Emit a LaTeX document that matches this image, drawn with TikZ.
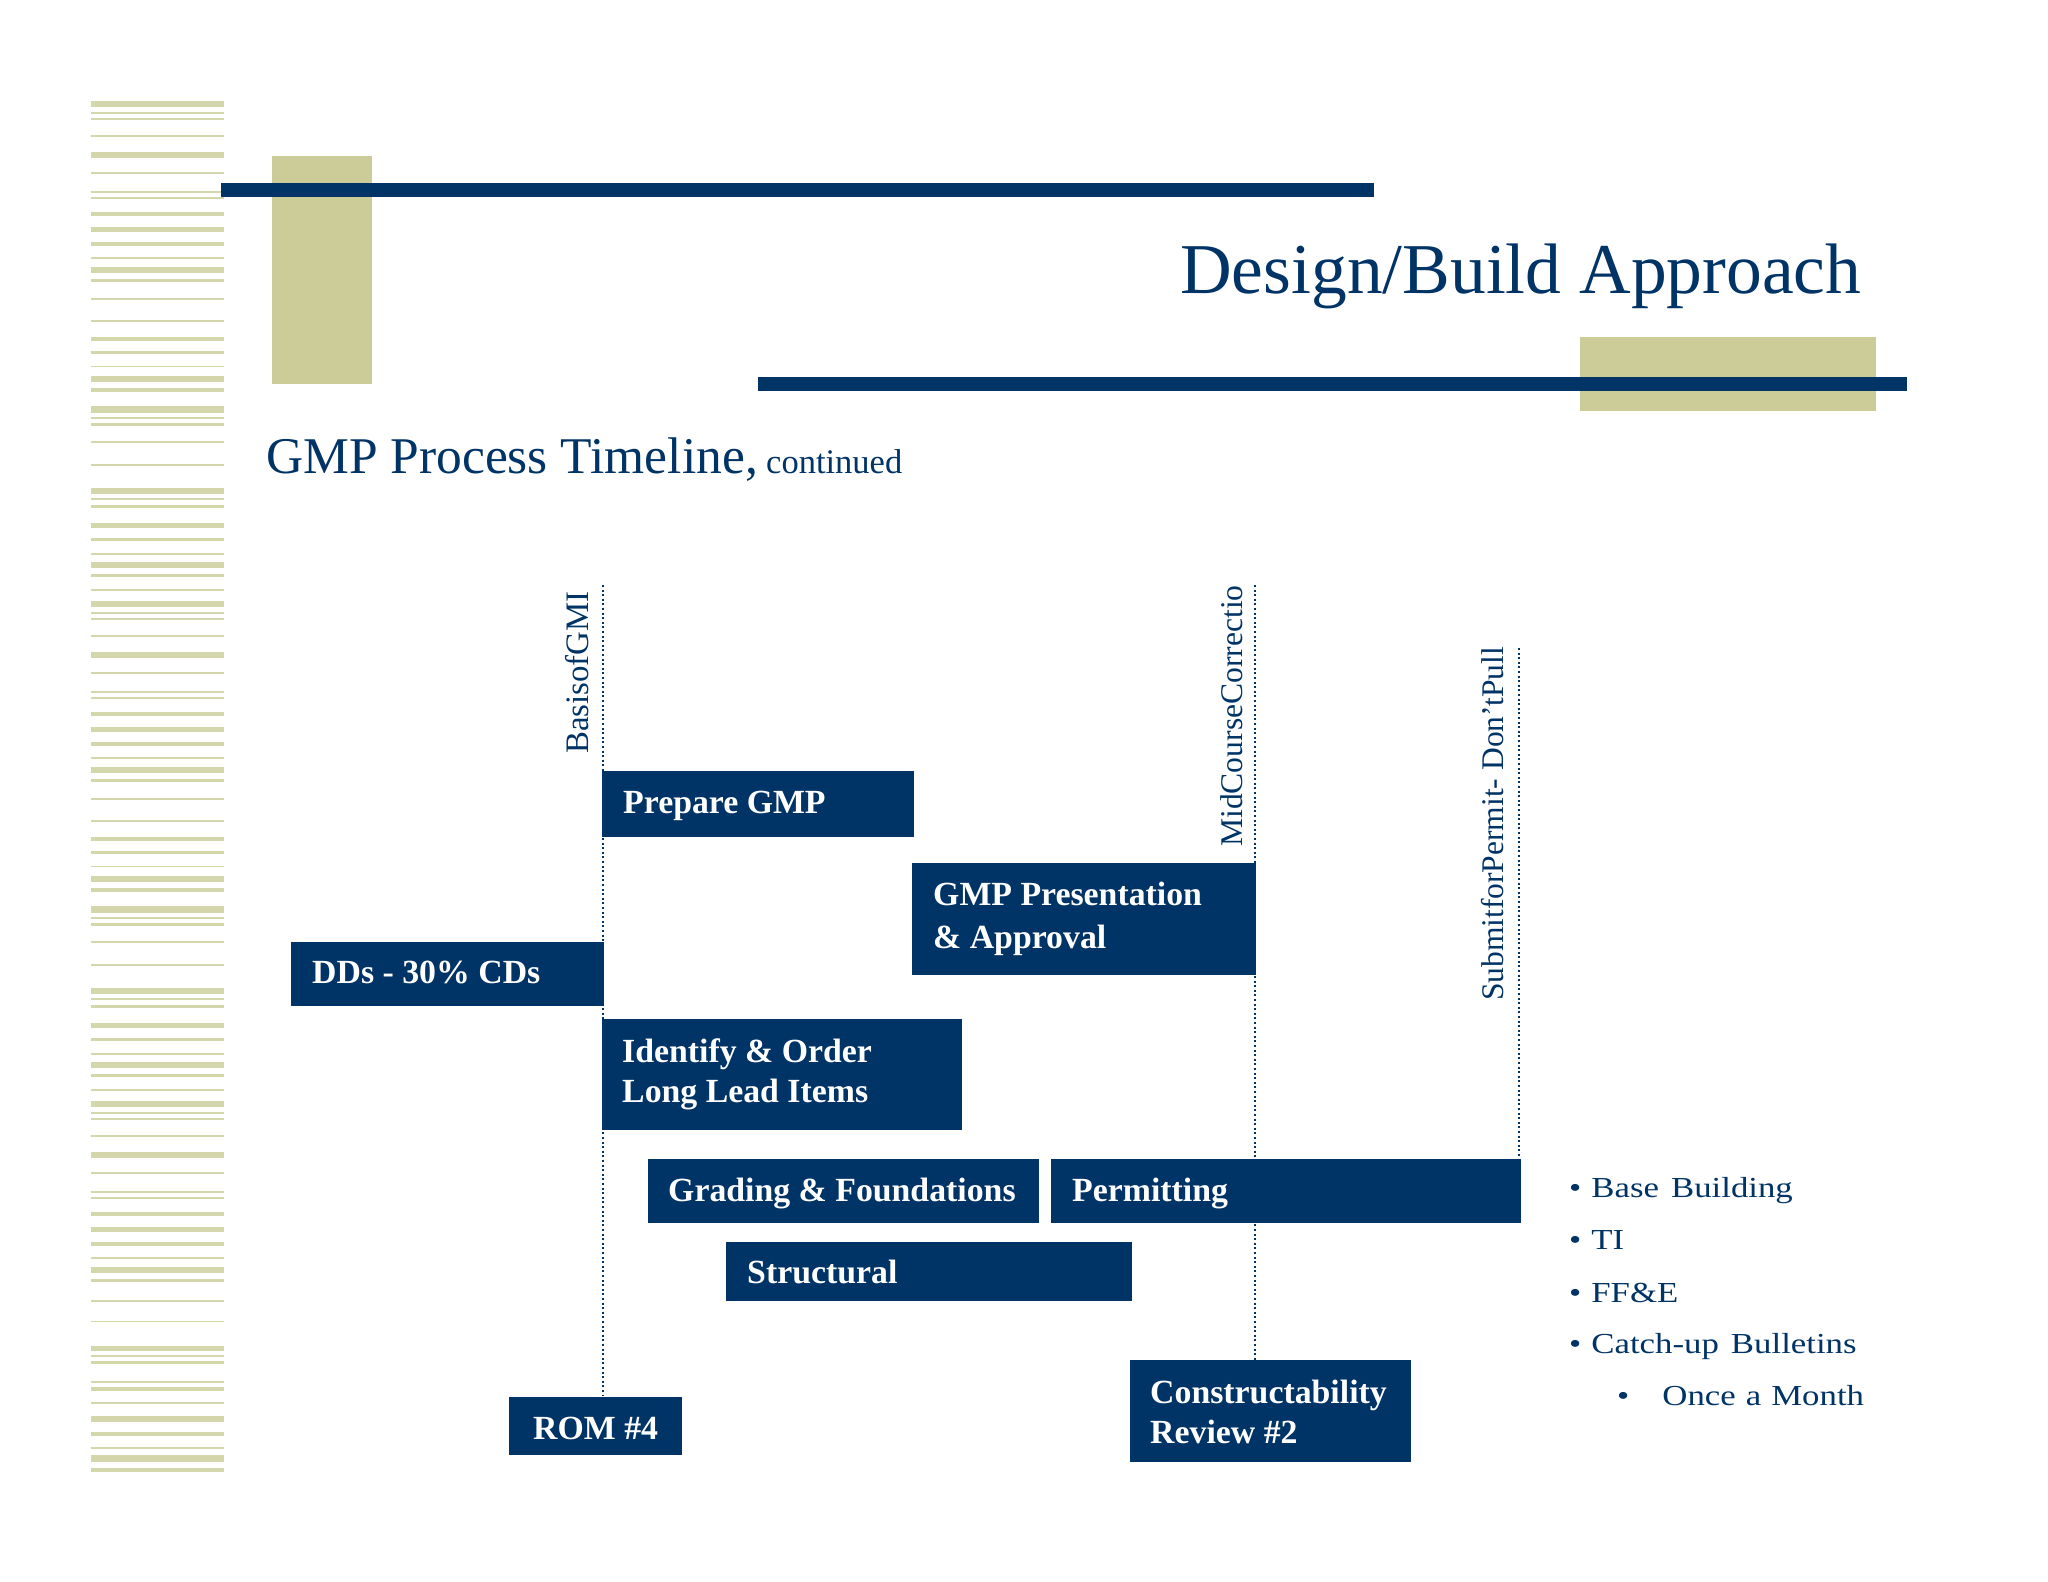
\documentclass[tikz,border=0pt]{standalone}
\usepackage{fontspec}
\setmainfont{Liberation Serif}
\newfontfamily\bulletfont[FakeStretch=1.2]{Liberation Serif}
\definecolor{navy}{HTML}{003366}
\definecolor{khaki}{HTML}{CCCC99}
\definecolor{stripecol}{RGB}{212,214,172}
\begin{document}
\begin{tikzpicture}[x=1pt,y=-1pt,
  bar/.style={fill=navy, draw=none, inner sep=0pt, outer sep=0pt, anchor=north west},
  tx/.style={text=white, font=\fontsize{33.8}{40}\selectfont\bfseries, inner sep=0pt, anchor=base west},
  milestone/.style={draw=navy, line width=2pt, dash pattern=on 2pt off 2.6pt},
  vlab/.style={text=navy, font=\fontsize{31.6}{32}\selectfont, inner sep=0pt, anchor=base west, rotate=90},
  blt/.style={text=navy, font=\bulletfont\fontsize{29}{31}\selectfont, inner sep=0pt, anchor=base west},
  stripe/.style={fill=stripecol}
]
\useasboundingbox (0,0) rectangle (2048,1582);
\fill[white] (0,0) rectangle (2048,1582);

% left stripes
\def\stripelist{100.7/6,112/1.7,118/1.7,135.3/1.4,151.7/6.3,172/2,191/1.7,196.7/2.6,212/4,227.3/4.4,242.3/3.4,257.3/1.7,267.3/6,279.3/3,298.3/1.7,320/1.7,336.7/4,351.3/2.7,366/1.3,375.7/6.6,387.7/4,406/6.7,416.7/2.3,422.7/3.3,441.3/1.7,464/1.7,488.3/6,498.3/2,505/3.3,522.7/5.3,537.7/3.6,553.3/1.7,562.3/6,574/3.3,589/1.7}
\foreach \s in {0,500}{
  \foreach \y/\h in \stripelist { \fill[stripe] (91,\y+\s) rectangle (224,\y+\s+\h); }
}
\foreach \y/\h in {1100.7/6,1112/1.7,1118/1.7,1135.3/1.4,1151.7/6.3,1172/2,1191/1.7,1196.7/2.6,1212/4,1227.3/4.4,1242.3/3.4,1257.3/1.7,1267.3/6,1279.3/3,
  1300/1.5,1320.7/1.6,1345.7/5.3,1355.3/1.7,1361/3.3,1381/1.7,1387.3/3.4,1402/1.7,1416/5.7,1431.7/4.3,1447/1.7,1455.3/7,1468/3.7}
  { \fill[stripe] (91,\y) rectangle (224,\y+\h); }

% header decoration
\fill[khaki] (272,156) rectangle (372,384);
\fill[navy] (221,183) rectangle (1374,197);
\fill[khaki] (1580,337) rectangle (1876,411);
\fill[navy] (758,377) rectangle (1907,391);

\node[text=navy, font=\fontsize{71.5}{80}\selectfont, inner sep=0pt, anchor=base west] (title) at (1180,293) {Design/Build Approach};
\node[text=navy, font=\fontsize{51.5}{56}\selectfont, inner sep=0pt, anchor=base west] (sub) at (266,473) {GMP Process Timeline,};
\node[text=navy, font=\fontsize{34.5}{38}\selectfont, inner sep=0pt, anchor=base west] (subc) at (766,473) {continued};

% milestone lines
\coordinate (m1a) at (603,585);  \coordinate (m1b) at (603,1395);
\coordinate (m2a) at (1255,585); \coordinate (m2b) at (1255,1360);
\coordinate (m3a) at (1519,648); \coordinate (m3b) at (1519,1159);
\draw[milestone] (m1a) -- (m1b);
\draw[milestone] (m2a) -- (m2b);
\draw[milestone] (m3a) -- (m3b);

\node[vlab, font=\fontsize{32.8}{33}\selectfont] (basis) at (588,754) {BasisofGMI};
\node[vlab] (midc) at (1242,847) {MidCourseCorrectio};
\node[vlab, font=\fontsize{31.5}{32}\selectfont] (subm) at (1503,1001) {SubmitforPermit- Don’tPull};

% boxes
\node[bar, minimum width=312pt, minimum height=66pt] (prep) at (602,771) {};
\node[bar, minimum width=344pt, minimum height=112pt] (pres) at (912,863) {};
\node[bar, minimum width=313pt, minimum height=64pt] (dds) at (291,942) {};
\node[bar, minimum width=360pt, minimum height=111pt] (iden) at (602,1019) {};
\node[bar, minimum width=391pt, minimum height=64pt] (grad) at (648,1159) {};
\node[bar, minimum width=470pt, minimum height=64pt] (perm) at (1051,1159) {};
\node[bar, minimum width=406pt, minimum height=59pt] (stru) at (726,1242) {};
\node[bar, minimum width=173pt, minimum height=58pt] (rom) at (509,1397) {};
\node[bar, minimum width=281pt, minimum height=102pt] (cons) at (1130,1360) {};

\node[tx] (prep-t) at ([shift={(21,42)}]prep.north west) {Prepare GMP};
\node[tx] (pres-t) at ([shift={(21,42)}]pres.north west) {\vtop{\baselineskip=43pt\hbox{GMP Presentation}\hbox{\& Approval}}};
\node[tx] (dds-t) at ([shift={(21,41)}]dds.north west) {DDs - 30\% CDs};
\node[tx] (iden-t) at ([shift={(20,43)}]iden.north west) {\vtop{\baselineskip=40pt\hbox{Identify \& Order}\hbox{Long Lead Items}}};
\node[tx] (grad-t) at ([shift={(20,42)}]grad.north west) {Grading \& Foundations};
\node[tx] (perm-t) at ([shift={(21,42)}]perm.north west) {Permitting};
\node[tx] (stru-t) at ([shift={(21,41)}]stru.north west) {Structural};
\node[tx] (rom-t) at ([shift={(24,42)}]rom.north west) {ROM \#4};
\node[tx] (cons-t) at ([shift={(20,43)}]cons.north west) {\vtop{\baselineskip=40pt\hbox{Constructability}\hbox{Review \#2}}};

% bullet list
\node[blt] (b1) at (1569,1197) {\textbullet\hspace{10pt}Base\hspace{12pt}Building};
\node[blt] (b2) at (1569,1249) {\textbullet\hspace{10pt}TI};
\node[blt] (b3) at (1569,1302) {\textbullet\hspace{10pt}FF\&E};
\node[blt] (b4) at (1569,1353) {\textbullet\hspace{10pt}Catch-up\hspace{12pt}Bulletins};
\node[blt] (b5) at (1617,1405) {\textbullet\hspace{33pt}Once\hspace{10pt}a\hspace{10pt}Month};
\end{tikzpicture}
\end{document}
